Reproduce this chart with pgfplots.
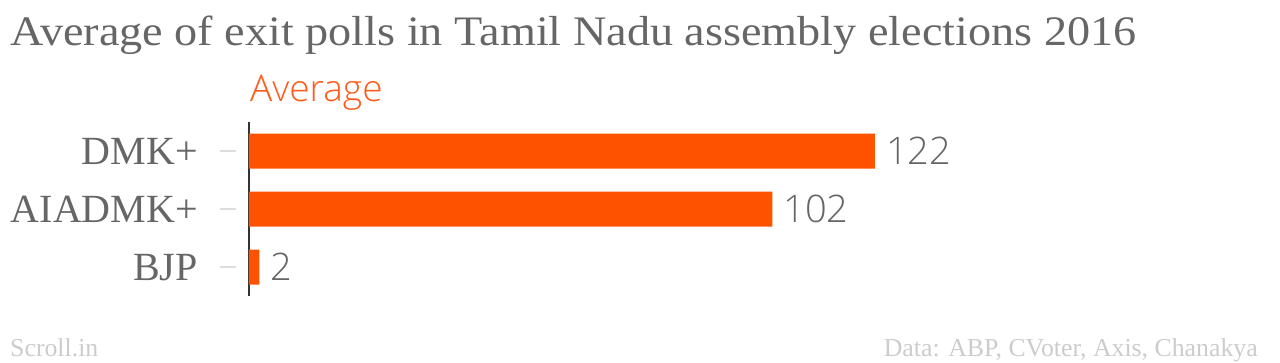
\documentclass[border=0pt]{standalone}
\usepackage{pgfplots}
\pgfplotsset{compat=1.18}
\usepackage{fontspec}
\setmainfont{Liberation Serif}
\newfontfamily\titlefont[FakeStretch=1.10]{Liberation Serif}
\newfontfamily\lightfont{Open Sans Light}
\definecolor{barorange}{HTML}{FF5200}
\definecolor{txtorange}{HTML}{FF5A1A}
\definecolor{txtgray}{HTML}{666666}
\definecolor{footgray}{HTML}{CCCCCC}
\definecolor{tickgray}{HTML}{DDDDDD}
\definecolor{axisdark}{HTML}{333333}
\begin{document}
\begin{tikzpicture}[x=1pt,y=1pt]
\path[use as bounding box] (0,0) rectangle (1280,362);
\node[anchor=base west, inner sep=0pt, text=txtgray, font=\titlefont\fontsize{42}{48}\selectfont] at (10,316) {Average of exit polls in Tamil Nadu assembly elections 2016};
\node[anchor=base west, inner sep=0pt, text=txtorange, font=\lightfont\fontsize{37}{44}\selectfont] at (250,260) {Average};
\node[anchor=base west, inner sep=0pt, text=footgray, font=\fontsize{25.8}{30}\selectfont] at (10,6) {Scroll.in};
\node[anchor=base east, inner sep=0pt, text=footgray, font=\fontsize{25.8}{30}\selectfont] at (1258,6) {Data: ABP, CVoter, Axis, Chanakya};
\begin{axis}[
  at={(249pt,66pt)}, anchor=south west,
  scale only axis, width=1000pt, height=174pt,
  xmin=0, xmax=194.9,
  ymin=-0.5, ymax=2.5, y dir=reverse,
  axis x line=none,
  axis y line*=left,
  y axis line style={draw=axisdark, line width=2pt},
  ytick={0,1,2},
  yticklabels={DMK+,AIADMK+,BJP},
  major tick length=0pt,
  ytick style={draw=none},
  yticklabel style={anchor=east, inner sep=0pt, xshift=-51pt, text depth=0pt, text=txtgray, font=\fontsize{40}{46}\selectfont},
  xbar, bar width=35pt,
  nodes near coords,
  nodes near coords style={anchor=west, xshift=11pt, inner sep=0pt, text=txtgray, font=\lightfont\fontsize{38}{44}\selectfont, /pgf/number format/assume math mode=true},
  clip=false,
]
\addplot[fill=barorange, draw=none] coordinates {(122,0) (102,1) (2,2)};
\foreach \k in {0,1,2} {
  \edef\temp{\noexpand\draw[tickgray, line width=2pt] ([xshift=-29pt]axis cs:0,\k) -- ([xshift=-13pt]axis cs:0,\k);}
  \temp
}
\end{axis}
\end{tikzpicture}
\end{document}
